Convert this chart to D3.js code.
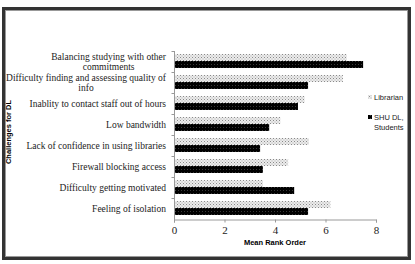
<!DOCTYPE html>
<meta charset="utf-8">
<script src="https://d3js.org/d3.v7.min.js"></script>
<style>
  body { margin: 0; background: #fff; }
</style>
<div id="my_dataviz"></div>
<script>

// data
var categories = [
  "Balancing studying with other|commitments",
  "Difficulty finding and assessing quality of|info",
  "Inablity to contact staff out of hours",
  "Low bandwidth",
  "Lack of confidence in using libraries",
  "Firewall blocking access",
  "Difficulty getting motivated",
  "Feeling of isolation"
];
var librarian = [6.8, 6.65, 5.13, 4.17, 5.3, 4.48, 3.48, 6.15];
var students  = [7.45, 5.27, 4.87, 3.73, 3.37, 3.48, 4.72, 5.27];
var seriesNames = ["Librarian", "SHU DL,|Students"];
var xTicks = [0, 2, 4, 6, 8];

var W = 415, H = 264;

var svg = d3.select("#my_dataviz")
  .append("svg")
    .attr("width", W)
    .attr("height", H);

// patterns for the bars
var defs = svg.append("defs");
var pl = defs.append("pattern")
    .attr("id", "dots")
    .attr("width", 3).attr("height", 3)
    .attr("patternUnits", "userSpaceOnUse");
pl.append("rect").attr("width", 3).attr("height", 3).attr("fill", "#ececec");
pl.append("rect").attr("x", 0).attr("y", 0).attr("width", 1).attr("height", 1).attr("fill", "#8a8a8a");
pl.append("rect").attr("x", 1.5).attr("y", 1.5).attr("width", 1).attr("height", 1).attr("fill", "#a8a8a8");

var pb = defs.append("pattern")
    .attr("id", "dark")
    .attr("width", 3).attr("height", 3)
    .attr("patternUnits", "userSpaceOnUse");
pb.append("rect").attr("width", 3).attr("height", 3).attr("fill", "#000");
pb.append("rect").attr("x", 1).attr("y", 1).attr("width", 1).attr("height", 1).attr("fill", "#3a3a3a");

// outer frame
svg.append("rect")
  .attr("x", 3.5).attr("y", 8.5)
  .attr("width", 406).attr("height", 250)
  .attr("fill", "none")
  .attr("stroke", "#333")
  .attr("stroke-width", 3);
svg.append("rect")
  .attr("x", 5.5).attr("y", 10.5)
  .attr("width", 402).attr("height", 246)
  .attr("fill", "none")
  .attr("stroke", "#999")
  .attr("stroke-width", 1);

// scales
var x = d3.scaleLinear()
  .domain([0, 8])
  .range([174, 376]);

var y = d3.scaleBand()
  .domain(categories)
  .range([51, 219]);

var y1 = d3.scaleBand()
  .domain(["lib", "stu"])
  .range([3, 17]);

// x axis
var xAxis = svg.append("g")
  .attr("transform", "translate(0,219.5)")
  .call(d3.axisBottom(x).tickValues(xTicks).tickSize(3).tickPadding(4).tickFormat(d3.format("d")));
xAxis.select(".domain").attr("stroke", "#999");
xAxis.selectAll(".tick line").attr("stroke", "#999");
xAxis.selectAll("text")
  .attr("font-family", "Liberation Serif, serif")
  .attr("font-size", 11)
  .attr("fill", "#222");

// y axis line and ticks at band edges
var yAxis = svg.append("g")
  .attr("transform", "translate(174.5,0)");
yAxis.append("line")
  .attr("y1", 51).attr("y2", 220)
  .attr("stroke", "#999");
yAxis.selectAll("line.tk")
  .data(categories)
  .enter().append("line")
    .attr("class", "tk")
    .attr("x1", -3).attr("x2", 0)
    .attr("y1", function(d) { return Math.round(y(d)) + 0.5; })
    .attr("y2", function(d) { return Math.round(y(d)) + 0.5; })
    .attr("stroke", "#999");

// category labels
var labels = svg.selectAll("text.cat")
  .data(categories)
  .enter().append("text")
    .attr("class", "cat")
    .attr("font-family", "Liberation Serif, serif")
    .attr("font-size", 9.5)
    .attr("fill", "#222")
    .attr("text-anchor", "middle");

labels.each(function(d) {
  var lines = d.split("|");
  var t = d3.select(this);
  var c = y(d) + y.bandwidth() / 2;
  // measure the first line so the block is right aligned
  var probe = t.append("tspan").text(lines[0]);
  var w = probe.node().getComputedTextLength();
  probe.remove();
  var cx = 166 - w / 2;
  lines.forEach(function(l, i) {
    t.append("tspan")
      .attr("x", cx)
      .attr("y", c + 3.5 + (i - (lines.length - 1) / 2) * 10)
      .text(l);
  });
});

// bars
var g = svg.append("g");
g.selectAll("rect.lib")
  .data(librarian)
  .enter().append("rect")
    .attr("class", "lib")
    .attr("x", x(0) + 1)
    .attr("y", function(d, i) { return y(categories[i]) + y1("lib"); })
    .attr("width", function(d) { return x(d) - x(0); })
    .attr("height", y1.bandwidth())
    .attr("fill", "url(#dots)");

g.selectAll("rect.stu")
  .data(students)
  .enter().append("rect")
    .attr("class", "stu")
    .attr("x", x(0) + 1)
    .attr("y", function(d, i) { return y(categories[i]) + y1("stu"); })
    .attr("width", function(d) { return x(d) - x(0); })
    .attr("height", y1.bandwidth())
    .attr("fill", "url(#dark)");

// axis titles
svg.append("text")
  .attr("x", 275)
  .attr("y", 245)
  .attr("text-anchor", "middle")
  .attr("font-family", "Liberation Sans, Arial, sans-serif")
  .attr("font-weight", "bold")
  .attr("font-size", 7.5)
  .text("Mean Rank Order");

svg.append("text")
  .attr("transform", "translate(10.5,132)rotate(-90)")
  .attr("text-anchor", "middle")
  .attr("font-family", "Liberation Sans, Arial, sans-serif")
  .attr("font-weight", "bold")
  .attr("font-size", 7.5)
  .text("Challenges   for DL");

// legend
var legend = svg.append("g");
var fills = ["url(#dots)", "url(#dark)"];
seriesNames.forEach(function(s, i) {
  var ly = 100 + i * 20;
  legend.append("rect")
    .attr("x", 368).attr("y", ly - 5)
    .attr("width", 4).attr("height", 4)
    .attr("fill", fills[i]);
  s.split("|").forEach(function(l, j) {
    legend.append("text")
      .attr("x", 374)
      .attr("y", ly + j * 9.5)
      .attr("font-family", "Liberation Sans, Arial, sans-serif")
      .attr("font-size", 7.5)
      .attr("fill", "#222")
      .text(l);
  });
});

</script>
